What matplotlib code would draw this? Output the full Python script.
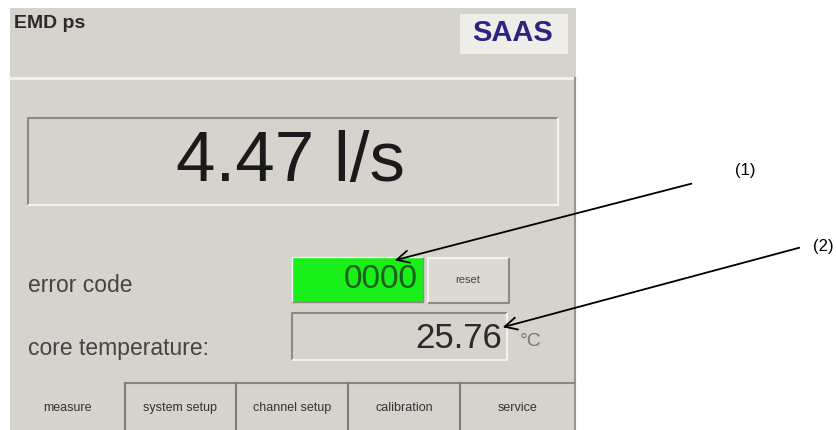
import matplotlib.pyplot as plt
from matplotlib.patches import Rectangle

# --- panel contents ---
title = "EMD ps"
logo_text = "SAAS"
flow_value = "4.47"
flow_unit = "l/s"
error_label = "error code"
error_code = "0000"
temp_label = "core temperature:"
core_temp = 25.76
temp_unit = "°C"
reset_label = "reset"
tab_labels = ["measure", "system setup", "channel setup", "calibration", "service"]
tab_edges = [10, 125, 236, 348, 460, 575]
callout_labels = ["(1)", "(2)"]

plt.rcParams['font.family'] = ['Liberation Sans', 'DejaVu Sans']

BG = '#d6d2cc'
DARK = '#8d8a84'
LIGHT = '#f4f2ee'

fig = plt.figure(figsize=(8.37, 4.30), dpi=100)
ax = fig.add_axes([0, 0, 1, 1])
ax.set_xlim(0, 837)
ax.set_ylim(430, 0)
ax.axis('off')


def box(x0, y0, x1, y1, fill, sunken=True, lw=1.5):
    ax.add_patch(Rectangle((x0, y0), x1 - x0, y1 - y0, fc=fill, ec='none'))
    tl, br = (DARK, LIGHT) if sunken else (LIGHT, DARK)
    ax.plot([x0, x0, x1], [y1, y0, y0], color=tl, lw=lw, solid_capstyle='butt')
    ax.plot([x0, x1, x1], [y1, y1, y0], color=br, lw=lw, solid_capstyle='butt')


# panel background
ax.add_patch(Rectangle((10, 8), 566, 422, fc=BG, ec='none'))
ax.plot([10, 576], [78, 78], color=LIGHT, lw=2)
ax.plot([575, 575], [78, 430], color='#9a9790', lw=1.5)

ax.text(14, 24, title, fontsize=14, fontweight='bold', color='#2a2a2a',
        va='center', ha='left')

# logo
ax.add_patch(Rectangle((460, 14), 108, 40, fc='#eeede9', ec='none'))
ax.text(513, 33, logo_text, fontsize=21, fontweight='bold', color='#2b2480',
        va='center', ha='center')

# big flow display
box(28, 118, 558, 205, BG)
ax.text(290, 163, f"{flow_value} {flow_unit}", fontsize=51, color='#1a1a1a',
        va='center', ha='center')

# error code row
ax.text(28, 285, error_label, fontsize=16.5, color='#444444', va='center', ha='left')
box(292, 257, 423, 302, '#19ef19', sunken=False, lw=1)
ax.text(418, 280, error_code, fontsize=24, color='#1d5e1d', va='center', ha='right')
box(428, 258, 509, 303, '#dcd9d3', sunken=False)
ax.text(468, 280, reset_label, fontsize=8, color='#444444', va='center', ha='center')

# core temperature row
ax.text(28, 349, temp_label, fontsize=16.5, color='#444444', va='center', ha='left')
box(292, 313, 507, 360, BG)
ax.text(502, 338, f"{core_temp:.2f}", fontsize=25, color='#2a2a2a', va='center', ha='right')
ax.text(520, 342, temp_unit, fontsize=14, color='#777777', va='center', ha='left')

# tabs
ax.plot([tab_edges[1], tab_edges[-1]], [383, 383], color='#8a8780', lw=1.5)
for i, lab in enumerate(tab_labels):
    x0, x1 = tab_edges[i], tab_edges[i + 1]
    if i > 0:
        ax.plot([x0, x0], [383, 430], color='#7f7c76', lw=1.5)
    ax.text((x0 + x1) / 2, 408, lab, fontsize=9, color='#333333', va='center', ha='center')

# callouts
arrow = dict(arrowstyle='->', color='black', lw=1.3, mutation_scale=22)
ax.annotate('', xy=(392, 261), xytext=(694, 183), arrowprops=arrow)
ax.text(745, 171, callout_labels[0], fontsize=12, color='black', va='center', ha='center')
ax.annotate('', xy=(500, 328), xytext=(802, 247), arrowprops=arrow)
ax.text(823, 247, callout_labels[1], fontsize=12, color='black', va='center', ha='center')

fig.savefig('out.png', dpi=100, facecolor='white')
